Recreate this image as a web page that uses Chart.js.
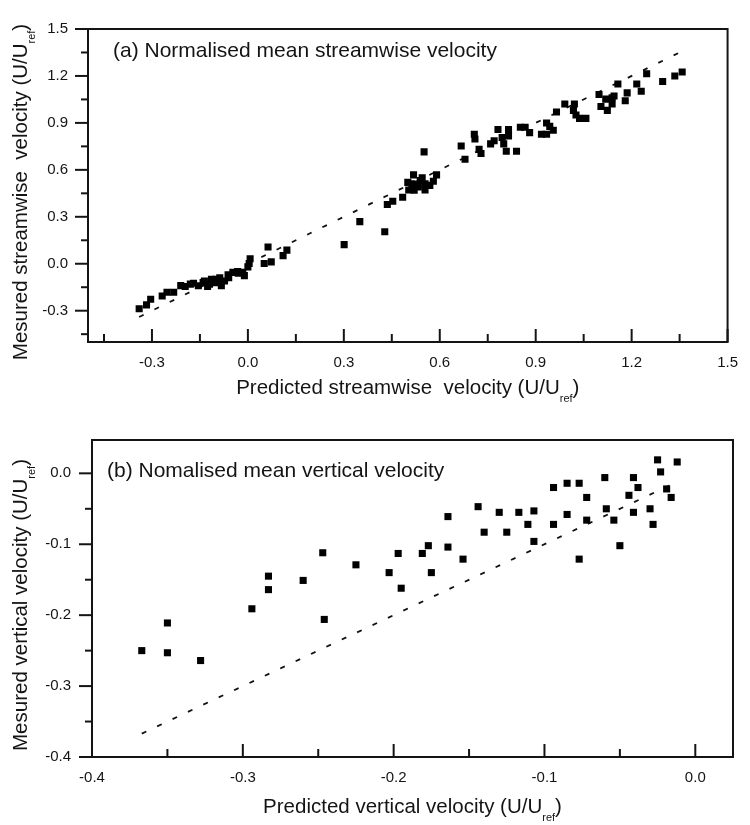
<!DOCTYPE html>
<html>
<head>
<meta charset="utf-8">
<script src="https://cdn.jsdelivr.net/npm/chart.js@4.4.1/dist/chart.umd.min.js"></script>
<style>
  html, body { margin: 0; padding: 0; background: #fff; }
  .panel { position: absolute; left: 0; width: 750px; }
  #panelA { top: 0; height: 410px; }
  #panelB { top: 410px; height: 415px; }
</style>
</head>
<body>
<div class="panel" id="panelA"><canvas id="chartA"></canvas></div>
<div class="panel" id="panelB"><canvas id="chartB"></canvas></div>
<script>
// (a) streamwise velocity: predicted (x) vs measured (y)
const predA = [-0.340, -0.317, -0.304, -0.268, -0.253, -0.232, -0.210, -0.196, -0.180, -0.170,
  -0.155, -0.140, -0.136, -0.126, -0.120, -0.114, -0.100, -0.098, -0.090, -0.088,
  -0.083, -0.073, -0.062, -0.060, -0.047, -0.032, -0.030, -0.016, -0.011, 0.000,
  0.004, 0.007, 0.051, 0.063, 0.073, 0.110, 0.122, 0.301, 0.350, 0.428,
  0.436, 0.453, 0.484, 0.503, 0.500, 0.513, 0.518, 0.520, 0.525, 0.533,
  0.539, 0.545, 0.554, 0.554, 0.569, 0.580, 0.590, 0.551, 0.667, 0.679,
  0.708, 0.710, 0.723, 0.729, 0.759, 0.770, 0.782, 0.795, 0.800, 0.808,
  0.815, 0.815, 0.840, 0.852, 0.867, 0.881, 0.918, 0.934, 0.934, 0.944,
  0.955, 0.965, 0.991, 1.018, 1.021, 1.026, 1.037, 1.057, 1.098, 1.104,
  1.119, 1.124, 1.139, 1.139, 1.145, 1.157, 1.180, 1.186, 1.216, 1.230,
  1.247, 1.297, 1.335, 1.358];
const measA = [-0.288, -0.263, -0.227, -0.206, -0.182, -0.182, -0.140, -0.145, -0.130, -0.125,
  -0.141, -0.120, -0.110, -0.145, -0.130, -0.100, -0.100, -0.121, -0.120, -0.090,
  -0.141, -0.110, -0.070, -0.090, -0.055, -0.049, -0.060, -0.055, -0.076, -0.020,
  0.002, 0.032, 0.002, 0.107, 0.012, 0.052, 0.087, 0.122, 0.269, 0.205,
  0.379, 0.399, 0.425, 0.471, 0.520, 0.511, 0.568, 0.470, 0.500, 0.491,
  0.532, 0.550, 0.471, 0.511, 0.501, 0.527, 0.568, 0.715, 0.752, 0.668,
  0.827, 0.797, 0.731, 0.705, 0.766, 0.786, 0.858, 0.807, 0.766, 0.719,
  0.858, 0.817, 0.719, 0.872, 0.872, 0.838, 0.827, 0.827, 0.899, 0.878,
  0.853, 0.970, 1.021, 0.980, 1.021, 0.950, 0.929, 0.929, 1.082, 1.005,
  1.052, 0.980, 1.061, 1.021, 1.072, 1.149, 1.041, 1.092, 1.149, 1.102,
  1.214, 1.164, 1.200, 1.225];
const fitA = [-0.34, 1.35];

// (b) vertical velocity: predicted (x) vs measured (y)
const predB = [-0.367, -0.350, -0.350, -0.328, -0.294, -0.283, -0.283, -0.260, -0.247, -0.246,
  -0.225, -0.203, -0.197, -0.195, -0.181, -0.177, -0.175, -0.164, -0.164, -0.154,
  -0.144, -0.140, -0.130, -0.125, -0.117, -0.111, -0.107, -0.107, -0.094, -0.094,
  -0.085, -0.085, -0.077, -0.077, -0.072, -0.072, -0.060, -0.059, -0.054, -0.050,
  -0.044, -0.041, -0.038, -0.041, -0.030, -0.028, -0.025, -0.023, -0.019, -0.016,
  -0.012];
const measB = [-0.250, -0.211, -0.253, -0.264, -0.191, -0.145, -0.164, -0.151, -0.112, -0.206,
  -0.129, -0.140, -0.113, -0.162, -0.113, -0.102, -0.140, -0.061, -0.104, -0.121,
  -0.047, -0.083, -0.055, -0.083, -0.055, -0.072, -0.053, -0.096, -0.020, -0.072,
  -0.014, -0.058, -0.014, -0.121, -0.034, -0.066, -0.006, -0.050, -0.066, -0.102,
  -0.031, -0.006, -0.020, -0.055, -0.050, -0.072, 0.019, 0.002, -0.022, -0.034,
  0.016];
const fitB = [-0.367, -0.015];

// tick positions
const xMajorA = [-0.3, 0, 0.3, 0.6, 0.9, 1.2, 1.5];
const xMinorA = [-0.45, -0.15, 0.15, 0.45, 0.75, 1.05, 1.35];
const yMajorA = [-0.3, 0, 0.3, 0.6, 0.9, 1.2, 1.5];
const yMinorA = [-0.45, -0.15, 0.15, 0.45, 0.75, 1.05, 1.35];
const xMajorB = [-0.4, -0.3, -0.2, -0.1, 0];
const xMinorB = [-0.35, -0.25, -0.15, -0.05];
const yMajorB = [-0.4, -0.3, -0.2, -0.1, 0];
const yMinorB = [-0.35, -0.25, -0.15, -0.05];

const FONT = "'Liberation Sans', Arial, sans-serif";
const INK = '#141414';

const toPoints = (xs, ys) => xs.map((x, i) => ({ x, y: ys[i] }));

// draws text with a subscript piece, centred on (cx, cy) in the current transform
function drawSubText(ctx, main, sub, tail, cx, cy, size) {
    const subSize = Math.round(size * 0.55);
    ctx.font = `${size}px ${FONT}`;
    const w1 = ctx.measureText(main).width;
    const w3 = ctx.measureText(tail).width;
    ctx.font = `${subSize}px ${FONT}`;
    const w2 = ctx.measureText(sub).width;
    let x = cx - (w1 + w2 + w3) / 2;
    ctx.textAlign = 'left';
    ctx.textBaseline = 'alphabetic';
    ctx.font = `${size}px ${FONT}`;
    ctx.fillText(main, x, cy);
    x += w1;
    ctx.font = `${subSize}px ${FONT}`;
    ctx.fillText(sub, x, cy + size * 0.38);
    x += w2;
    ctx.font = `${size}px ${FONT}`;
    ctx.fillText(tail, x, cy);
}

// frame, inward x ticks, outward y ticks, panel label and axis titles
const decorations = {
    id: 'decorations',
    afterDraw(chart, args, o) {
        const { ctx, chartArea: a, scales: { x, y } } = chart;
        ctx.save();
        ctx.strokeStyle = INK;
        ctx.lineWidth = 2;
        ctx.strokeRect(a.left, a.top, a.right - a.left, a.bottom - a.top);

        const tick = (x1, y1, x2, y2) => {
            ctx.beginPath();
            ctx.moveTo(x1, y1);
            ctx.lineTo(x2, y2);
            ctx.stroke();
        };
        o.xMajor.forEach(v => { const p = x.getPixelForValue(v); tick(p, a.bottom, p, a.bottom - 13); });
        o.xMinor.forEach(v => { const p = x.getPixelForValue(v); tick(p, a.bottom, p, a.bottom - 8); });
        o.yMajor.forEach(v => { const p = y.getPixelForValue(v); tick(a.left, p, a.left - 13, p); });
        o.yMinor.forEach(v => { const p = y.getPixelForValue(v); tick(a.left, p, a.left - 7, p); });

        ctx.fillStyle = INK;
        ctx.font = `21px ${FONT}`;
        ctx.textAlign = 'left';
        ctx.textBaseline = 'alphabetic';
        ctx.fillText(o.label, o.labelX, o.labelY);

        drawSubText(ctx, o.xTitle, 'ref', ')', (a.left + a.right) / 2, o.xTitleY, 20.5);

        ctx.translate(o.yTitleX, o.yTitleCY);
        ctx.rotate(-Math.PI / 2);
        drawSubText(ctx, o.yTitle, 'ref', ')', 0, 0, 20.5);
        ctx.restore();
    }
};

function isMajor(list, v) {
    return list.some(m => Math.abs(m - v) < 1e-6);
}

function buildChart(canvasId, s) {
    return new Chart(document.getElementById(canvasId), {
        type: 'scatter',
        data: {
            datasets: [{
                data: toPoints(s.pred, s.meas),
                pointStyle: 'rect',
                pointRadius: 5,
                pointHoverRadius: 5,
                backgroundColor: '#000',
                borderColor: '#000',
                borderWidth: 0
            }, {
                data: toPoints(s.fit, s.fit),
                showLine: true,
                pointRadius: 0,
                borderColor: '#111',
                borderWidth: 1.8,
                borderDash: [5, 12]
            }]
        },
        options: {
            responsive: true,
            maintainAspectRatio: false,
            animation: false,
            layout: { padding: { top: s.padTop, right: s.padRight, left: 0, bottom: 0 } },
            plugins: {
                legend: { display: false },
                tooltip: { enabled: false },
                decorations: s.deco
            },
            scales: {
                x: {
                    type: 'linear',
                    min: s.xMin,
                    max: s.xMax,
                    grid: { display: false, drawTicks: false },
                    border: { display: false },
                    afterBuildTicks: scale => {
                        scale.ticks = s.deco.xMajor.concat(s.deco.xMinor).sort((p, q) => p - q).map(v => ({ value: v }));
                    },
                    afterFit: scale => { scale.height = s.xAxisH; },
                    ticks: {
                        autoSkip: false,
                        maxRotation: 0,
                        padding: 12,
                        color: INK,
                        font: { family: FONT, size: 15 },
                        callback: v => isMajor(s.deco.xMajor, v) ? v.toFixed(1) : ''
                    }
                },
                y: {
                    type: 'linear',
                    min: s.yMin,
                    max: s.yMax,
                    grid: { display: false, drawTicks: false },
                    border: { display: false },
                    afterBuildTicks: scale => {
                        scale.ticks = s.deco.yMajor.concat(s.deco.yMinor).sort((p, q) => p - q).map(v => ({ value: v }));
                    },
                    afterFit: scale => { scale.width = s.yAxisW; },
                    ticks: {
                        autoSkip: false,
                        padding: s.yPad,
                        color: INK,
                        font: { family: FONT, size: 15 },
                        callback: v => isMajor(s.deco.yMajor, v) ? v.toFixed(1) : ''
                    }
                }
            }
        },
        plugins: [decorations]
    });
}

buildChart('chartA', {
    pred: predA, meas: measA, fit: fitA,
    xMin: -0.5, xMax: 1.5, yMin: -0.5, yMax: 1.5,
    padTop: 15, padRight: 13, xAxisH: 68, yAxisW: 88, yPad: 20,
    deco: {
        xMajor: xMajorA, xMinor: xMinorA, yMajor: yMajorA, yMinor: yMinorA,
        label: '(a) Normalised mean streamwise velocity', labelX: 113, labelY: 57,
        xTitle: 'Predicted streamwise  velocity (U/U', xTitleY: 394,
        yTitle: 'Mesured streamwise  velocity (U/U', yTitleX: 27, yTitleCY: 192
    }
});

buildChart('chartB', {
    pred: predB, meas: measB, fit: fitB,
    xMin: -0.4, xMax: 0.025, yMin: -0.4, yMax: 0.047,
    padTop: 25, padRight: 17, xAxisH: 68, yAxisW: 92, yPad: 21,
    deco: {
        xMajor: xMajorB, xMinor: xMinorB, yMajor: yMajorB, yMinor: yMinorB,
        label: '(b) Nomalised mean vertical velocity', labelX: 107, labelY: 67,
        xTitle: 'Predicted vertical velocity (U/U', xTitleY: 403,
        yTitle: 'Mesured vertical velocity (U/U', yTitleX: 27, yTitleCY: 195
    }
});
</script>
</body>
</html>
